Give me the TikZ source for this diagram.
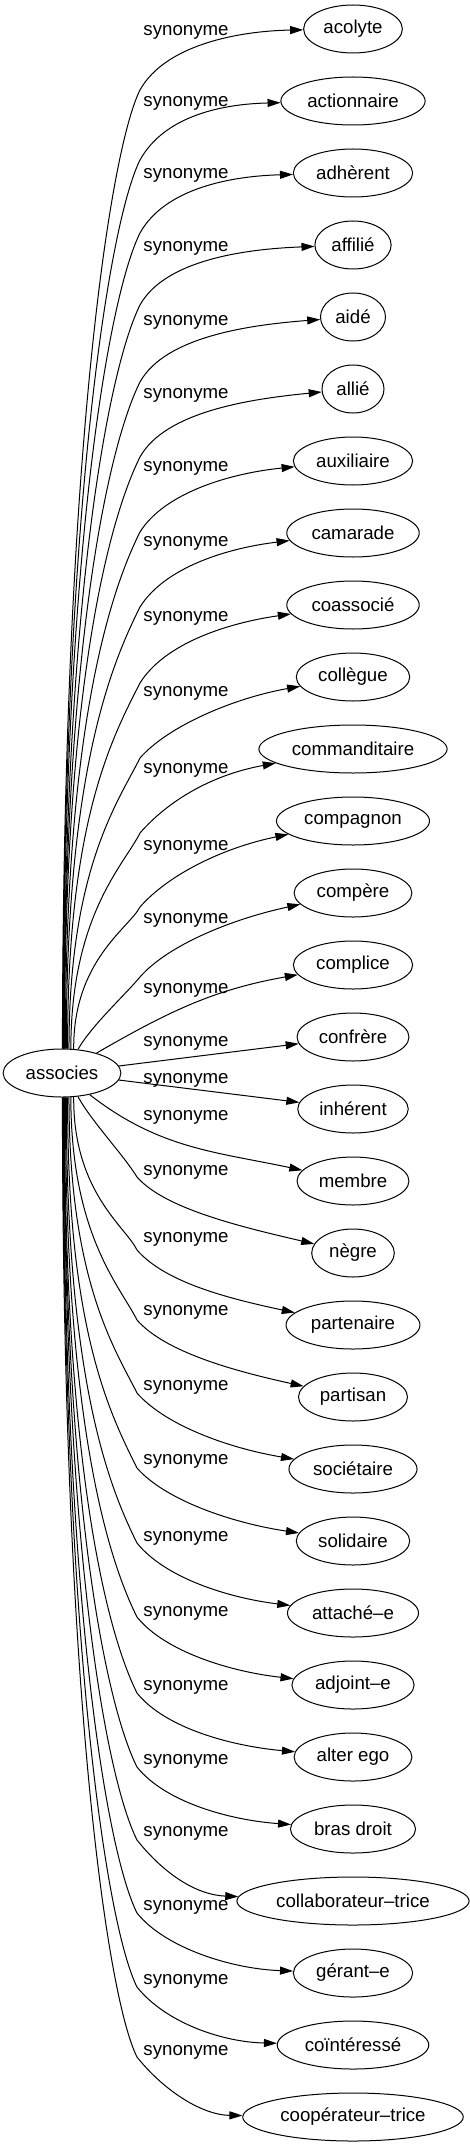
\documentclass[tikz,border=0pt]{standalone}
\usepackage{fontspec}
\setmainfont{Liberation Sans}
\usepackage{tikz}
\usetikzlibrary{
    shapes.geometric, % For the ellipse nodes
    arrows.meta       % For the filled arrowheads
}
\tikzset{
  % Style for the word ellipses
  word/.style={
    ellipse, draw, line width=0.75pt, minimum height=36pt,
    inner xsep=4pt, inner ysep=2pt
  },
  % Style for the edge labels
  rel/.style={inner sep=0pt},
  % Style for arrows
  arrow/.style={
    -{Triangle[length=9.75pt,width=6pt]}, line width=0.75pt
  }
}

\begin{document}
\begin{tikzpicture}[x=0.75pt, y=0.75pt, font=\fontsize{14pt}{17pt}\selectfont]
        \useasboundingbox (0,0) rectangle (469,-2147);

        \node[word] (associes) at (62,-1073) {associes};

        \node[word] (acolyte) at (353,-29) {acolyte};
        \node[word] (actionnaire) at (353,-101) {actionnaire};
        \node[word] (adherent) at (353,-173) {adhèrent};
        \node[word] (affilie) at (353,-245) {affilié};
        \node[word] (aide) at (353,-317) {aidé};
        \node[word] (allie) at (353,-389) {allié};
        \node[word] (auxiliaire) at (353,-461) {auxiliaire};
        \node[word] (camarade) at (353,-533) {camarade};
        \node[word] (coassocie) at (353,-605) {coassocié};
        \node[word] (collegue) at (353,-677) {collègue};
        \node[word] (commanditaire) at (353,-749) {commanditaire};
        \node[word] (compagnon) at (353,-821) {compagnon};
        \node[word] (compere) at (353,-893) {compère};
        \node[word] (complice) at (353,-965) {complice};
        \node[word] (confrere) at (353,-1037) {confrère};
        \node[word] (inherent) at (353,-1109) {inhérent};
        \node[word] (membre) at (353,-1181) {membre};
        \node[word] (negre) at (353,-1253) {nègre};
        \node[word] (partenaire) at (353,-1325) {partenaire};
        \node[word] (partisan) at (353,-1397) {partisan};
        \node[word] (societaire) at (353,-1469) {sociétaire};
        \node[word] (solidaire) at (353,-1541) {solidaire};
        \node[word] (attachee) at (353,-1613) {attaché–e};
        \node[word] (adjointe) at (353,-1685) {adjoint–e};
        \node[word] (alterego) at (353,-1757) {alter ego};
        \node[word] (brasdroit) at (353,-1829) {bras droit};
        \node[word] (collaborateur) at (353,-1901) {collaborateur–trice};
        \node[word] (gerante) at (353,-1973) {gérant–e};
        \node[word] (cointeresse) at (353,-2045) {coïntéressé};
        \node[word] (cooperateur) at (353,-2117) {coopérateur–trice};

        % labels
        \node[rel] (s0) at (186,-32) {synonyme};
        \node[rel] (s1) at (186,-103) {synonyme};
        \node[rel] (s2) at (186,-175) {synonyme};
        \node[rel] (s3) at (186,-248) {synonyme};
        \node[rel] (s4) at (186,-322) {synonyme};
        \node[rel] (s5) at (186,-395) {synonyme};
        \node[rel] (s6) at (186,-468) {synonyme};
        \node[rel] (s7) at (186,-543) {synonyme};
        \node[rel] (s8) at (186,-618) {synonyme};
        \node[rel] (s9) at (186,-693) {synonyme};
        \node[rel] (s10) at (186,-770) {synonyme};
        \node[rel] (s11) at (186,-847) {synonyme};
        \node[rel] (s12) at (186,-920) {synonyme};
        \node[rel] (s13) at (186,-990) {synonyme};
        \node[rel] (s14) at (186,-1043) {synonyme};
        \node[rel] (s15) at (186,-1080) {synonyme};
        \node[rel] (s16) at (186,-1117) {synonyme};
        \node[rel] (s17) at (186,-1172) {synonyme};
        \node[rel] (s18) at (186,-1239) {synonyme};
        \node[rel] (s19) at (186,-1312) {synonyme};
        \node[rel] (s20) at (186,-1387) {synonyme};
        \node[rel] (s21) at (186,-1461) {synonyme};
        \node[rel] (s22) at (186,-1538) {synonyme};
        \node[rel] (s23) at (186,-1613) {synonyme};
        \node[rel] (s24) at (186,-1687) {synonyme};
        \node[rel] (s25) at (186,-1761) {synonyme};
        \node[rel] (s26) at (186,-1833) {synonyme};
        \node[rel] (s27) at (186,-1907) {synonyme};
        \node[rel] (s28) at (186,-1981) {synonyme};
        \node[rel] (s29) at (186,-2052) {synonyme};

        % upper edges
        \draw[arrow] (associes.89) .. controls (63,-454) and (110,-150) .. (140,-90) .. controls (165,-45) and (238,-31) .. (acolyte);
        \draw[arrow] (associes.88) .. controls (63,-498) and (110,-220) .. (140,-160) .. controls (165,-115) and (224,-104) .. (actionnaire);
        \draw[arrow] (associes.87) .. controls (63,-543) and (110,-293) .. (140,-233) .. controls (165,-188) and (232,-176) .. (adherent);
        \draw[arrow] (associes.86) .. controls (64,-588) and (110,-365) .. (140,-305) .. controls (165,-260) and (245,-249) .. (affilie);
        \draw[arrow] (associes.85) .. controls (64,-635) and (110,-442) .. (140,-382) .. controls (165,-337) and (248,-325) .. (aide);
        \draw[arrow] (associes.84) .. controls (64,-682) and (110,-517) .. (140,-457) .. controls (165,-412) and (249,-399) .. (allie);
        \draw[arrow] (associes.82) .. controls (65,-728) and (110,-592) .. (140,-532) .. controls (165,-492) and (232,-473) .. (auxiliaire);
        \draw[arrow] (associes.80) .. controls (66,-775) and (110,-667) .. (140,-607) .. controls (165,-567) and (228,-548) .. (camarade);
        \draw[arrow] (associes.77) .. controls (67,-822) and (112,-738) .. (140,-683) .. controls (165,-643) and (228,-623) .. (coassocie);
        \draw[arrow] (associes.74) .. controls (69,-869) and (118,-802) .. (140,-758) .. controls (168,-726) and (234,-698) .. (collegue);
        \draw[arrow] (associes.70) .. controls (71,-915) and (124,-865) .. (140,-833) .. controls (168,-801) and (211,-775) .. (commanditaire);
        \draw[arrow] (associes.64) .. controls (73,-961) and (129,-928) .. (140,-907) .. controls (168,-875) and (222,-848) .. (compagnon);
        \draw[arrow] (associes.56) .. controls (92,-1025) and (125,-995) .. (140,-977) .. controls (168,-945) and (232,-919) .. (compere);

        % middle edges
        \draw[arrow] (associes) to[out=30, in=190] (complice);
        \draw[arrow] (associes) -- (confrere);
        \draw[arrow] (associes) -- (inherent);
        \draw[arrow] (associes) to[out=-38, in=168] (membre);

        % lower edges
        \draw[arrow] (associes.-56) .. controls (92,-1122) and (122,-1153) .. (137,-1177) .. controls (165,-1209) and (242,-1227) .. (negre);
        \draw[arrow] (associes.-64) .. controls (73,-1192) and (126,-1227) .. (137,-1250) .. controls (165,-1282) and (226,-1298) .. (partenaire);
        \draw[arrow] (associes.-70) .. controls (71,-1235) and (120,-1286) .. (137,-1320) .. controls (165,-1352) and (234,-1371) .. (partisan);
        \draw[arrow] (associes.-74) .. controls (69,-1281) and (115,-1349) .. (137,-1393) .. controls (165,-1425) and (228,-1448) .. (societaire);
        \draw[arrow] (associes.-77) .. controls (67,-1327) and (109,-1412) .. (137,-1468) .. controls (165,-1500) and (232,-1523) .. (solidaire);
        \draw[arrow] (associes.-80) .. controls (66,-1374) and (107,-1483) .. (137,-1543) .. controls (165,-1578) and (229,-1598) .. (attachee);
        \draw[arrow] (associes.-82) .. controls (65,-1419) and (107,-1557) .. (137,-1617) .. controls (165,-1652) and (232,-1672) .. (adjointe);
        \draw[arrow] (associes.-84) .. controls (64,-1467) and (107,-1633) .. (137,-1693) .. controls (165,-1728) and (231,-1746) .. (alterego);
        \draw[arrow] (associes.-85) .. controls (64,-1512) and (107,-1707) .. (137,-1767) .. controls (165,-1802) and (229,-1820) .. (brasdroit);
        \draw[arrow] (associes.-86) .. controls (64,-1558) and (107,-1780) .. (137,-1840) .. controls (165,-1875) and (197,-1895) .. (collaborateur);
        \draw[arrow] (associes.-87) .. controls (63,-1603) and (107,-1853) .. (137,-1913) .. controls (165,-1948) and (232,-1969) .. (gerante);
        \draw[arrow] (associes.-88) .. controls (63,-1649) and (107,-1927) .. (137,-1987) .. controls (165,-2022) and (221,-2042) .. (cointeresse);
        \draw[arrow] (associes.-89) .. controls (62.5,-1692) and (107,-1997) .. (137,-2057) .. controls (165,-2092) and (203,-2115) .. (cooperateur);

    \end{tikzpicture}
\end{document}
